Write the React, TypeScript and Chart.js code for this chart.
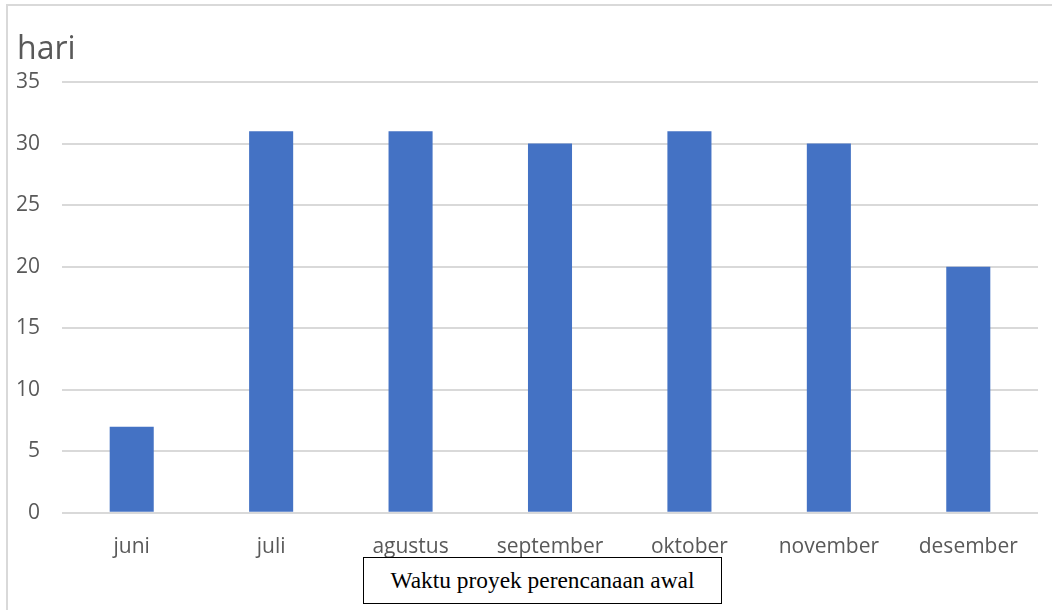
import React, { useEffect, useRef } from "react";
import { Chart, registerables } from "chart.js";

Chart.register(...registerables);

const categories = ["juni", "juli", "agustus", "september", "oktober", "november", "desember"];
const hariValues = [7, 31, 31, 30, 31, 30, 20];
const yTicks = [0, 5, 10, 15, 20, 25, 30, 35];
const titleText = "hari";
const captionText = "Waktu proyek perencanaan awal";

export default function App() {
  const canvasRef = useRef<HTMLCanvasElement | null>(null);

  useEffect(() => {
    document.body.style.margin = "0";
    const canvas = canvasRef.current;
    if (!canvas) return;
    const chart = new Chart(canvas, {
      type: "bar",
      data: {
        labels: categories,
        datasets: [
          {
            label: titleText,
            data: hariValues,
            backgroundColor: "#4472C4",
            borderWidth: 0,
            barPercentage: 0.316,
            categoryPercentage: 1,
          },
        ],
      },
      options: {
        animation: false,
        responsive: false,
        maintainAspectRatio: false,
        layout: { padding: { left: 17, right: 14, top: 0, bottom: 28 } },
        plugins: {
          legend: { display: false },
          tooltip: { enabled: false },
          title: {
            display: true,
            text: titleText,
            align: "start",
            color: "#595959",
            font: { family: "'Open Sans', sans-serif", size: 32, weight: "normal", lineHeight: 1.2 },
            padding: { top: 30.8, bottom: 12.8 },
          },
        },
        scales: {
          x: {
            grid: { display: false, drawTicks: false },
            border: { display: false },
            ticks: {
              color: "#595959",
              padding: 22,
              font: { family: "'Open Sans', sans-serif", size: 21 },
              maxRotation: 0,
              autoSkip: false,
            },
          },
          y: {
            min: 0,
            max: 35,
            afterFit: (s: any) => {
              s.width = 45;
            },
            afterBuildTicks: (s: any) => {
              s.ticks = yTicks.map((v) => ({ value: v }));
            },
            grid: { color: "#d9d9d9", lineWidth: 2, drawTicks: false },
            border: { display: false },
            ticks: {
              color: "#595959",
              padding: 22,
              font: { family: "'Open Sans', sans-serif", size: 21 },
            },
          },
        },
      },
    });
    return () => chart.destroy();
  }, []);

  return (
    <div style={{ position: "relative", width: 1052, height: 610, overflow: "hidden", background: "#fff" }}>
      <div
        style={{
          position: "absolute",
          left: 6,
          top: 4,
          width: 1070,
          height: 640,
          border: "2px solid #d9d9d9",
          boxSizing: "border-box",
        }}
      />
      <canvas ref={canvasRef} width={1052} height={610} style={{ position: "absolute", left: 0, top: 0 }} />
      <div
        style={{
          position: "absolute",
          left: 363,
          top: 557,
          width: 359,
          height: 47,
          border: "1px solid #000",
          boxSizing: "border-box",
          background: "#fff",
          display: "flex",
          alignItems: "center",
          justifyContent: "center",
          fontFamily: "'Liberation Serif', 'Times New Roman', serif",
          fontSize: 23.4,
          color: "#000",
        }}
      >
        {captionText}
      </div>
    </div>
  );
}
